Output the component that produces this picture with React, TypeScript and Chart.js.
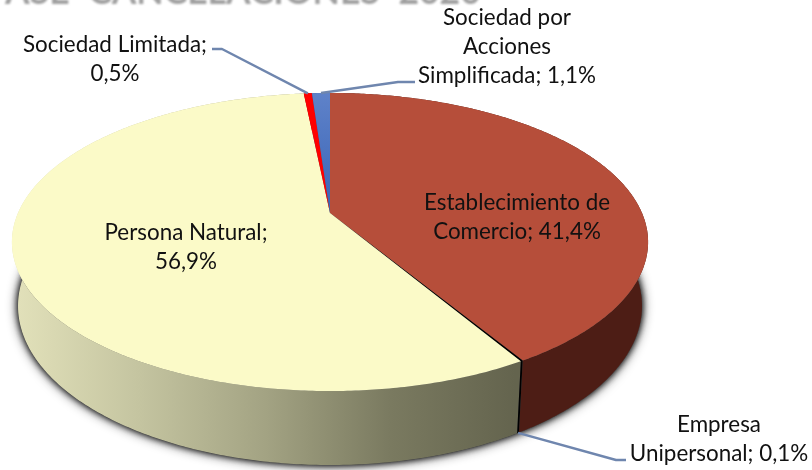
import React, { useEffect, useRef } from "react";
import { Chart, registerables } from "chart.js";

Chart.register(...registerables);

const categories = [
  "Establecimiento de Comercio",
  "Empresa Unipersonal",
  "Persona Natural",
  "Sociedad Limitada",
  "Sociedad por Acciones Simplificada",
];
const shares = [41.4, 0.1, 56.9, 0.5, 1.1];
const topColors = ["#B64E3A", "#000000", "#FBFAC8", "#FF0000", "#5B7EC6"];
const titleText = "ASE CANCELACIONES 2020";

const labelLines = [
  ["Establecimiento de", "Comercio; 41,4%"],
  ["Empresa", "Unipersonal; 0,1%"],
  ["Persona Natural;", "56,9%"],
  ["Sociedad Limitada;", "0,5%"],
  ["Sociedad por", "Acciones", "Simplificada; 1,1%"],
];
const labelCentres = [
  [517, 202.5],
  [719, 425],
  [186, 233],
  [115, 44.5],
  [507, 18],
];
const leaderElbows: (number[][] | null)[] = [
  null,
  [[616, 460], [626, 460]],
  null,
  [[222, 49], [212, 49]],
  [[398, 82], [415, 82]],
];

const W = 812;
const H = 470;
const LH = 29;
const FONT = "22.4px Lato, Carlito, sans-serif";

const TOP = { cx: 330, cy: 213, R: 312, k: 143.4 };
const BOT = { cx: 330, cy: 275, R: 306, k: 153 };
const P = 0.1947;

function proj(f: typeof TOP, a: number, r = 1) {
  const u = Math.cos(a) * r;
  const v = Math.sin(a) * r;
  const s = 1 / (1 - P * v);
  return [f.cx + f.R * u * s, f.cy + f.k * v * s];
}

function rim(ctx: CanvasRenderingContext2D, f: typeof TOP, a0: number, a1: number, first: boolean) {
  const n = Math.max(2, Math.ceil(Math.abs(a1 - a0) / 0.01));
  for (let i = 0; i <= n; i++) {
    const p = proj(f, a0 + ((a1 - a0) * i) / n);
    if (first && i === 0) ctx.moveTo(p[0], p[1]);
    else ctx.lineTo(p[0], p[1]);
  }
}

const pie3d = {
  id: "pie3d",
  beforeDatasetsDraw(chart: any) {
    const ctx: CanvasRenderingContext2D = chart.ctx;
    const arcs = chart.getDatasetMeta(0).data;

    // title cut by the top of the picture
    ctx.save();
    ctx.font = "bold 35.5px Lato, Carlito, sans-serif";
    (ctx as any).wordSpacing = "10px";
    ctx.fillStyle = "#A0A0A0";
    ctx.textAlign = "left";
    ctx.textBaseline = "alphabetic";
    ctx.filter = "blur(0.8px)";
    ctx.fillText(titleText, 5, 3.5);
    ctx.restore();

    // soft shadow round the foot of the pie
    ctx.save();
    ctx.shadowColor = "rgba(0,0,0,0.9)";
    ctx.fillStyle = "#555";
    [12, 6].forEach((b) => {
      ctx.shadowBlur = b;
      ctx.beginPath();
      rim(ctx, BOT, 0, Math.PI * 2, true);
      ctx.closePath();
      ctx.fill();
    });
    ctx.restore();

    // walls
    const grad = ctx.createLinearGradient(15, 0, 515, 0);
    grad.addColorStop(0, "#E2E1BA");
    grad.addColorStop(0.25, "#C4C4A0");
    grad.addColorStop(0.5, "#A3A383");
    grad.addColorStop(0.75, "#7A7A60");
    grad.addColorStop(1, "#64644E");
    const wallFill = ["#4D1D15", "#000000", grad, "#800000", "#2E4A80"];
    const order = [3, 4, 0, 2, 1];
    order.forEach((i) => {
      const arc = arcs[i];
      ctx.beginPath();
      rim(ctx, TOP, arc.startAngle, arc.endAngle, true);
      rim(ctx, BOT, arc.endAngle, arc.startAngle, false);
      ctx.closePath();
      ctx.fillStyle = wallFill[i] as any;
      ctx.fill();
    });

    // top face
    const blue = ctx.createLinearGradient(0, 93, 0, 213);
    blue.addColorStop(0, "#5F82C9");
    blue.addColorStop(1, "#3864B6");
    arcs.forEach((arc: any, i: number) => {
      ctx.beginPath();
      ctx.moveTo(TOP.cx, TOP.cy);
      rim(ctx, TOP, arc.startAngle, arc.endAngle, false);
      ctx.closePath();
      ctx.fillStyle = i === 4 ? blue : topColors[i];
      ctx.fill();
    });

    // leader lines
    ctx.save();
    ctx.strokeStyle = "#6F86AE";
    ctx.lineWidth = 2.4;
    ctx.lineJoin = "round";
    arcs.forEach((arc: any, i: number) => {
      const e = leaderElbows[i];
      if (!e) return;
      const mid = (arc.startAngle + arc.endAngle) / 2;
      const start = i === 1 ? proj(BOT, mid) : proj(TOP, mid);
      ctx.beginPath();
      ctx.moveTo(start[0], start[1]);
      e.forEach((q) => ctx.lineTo(q[0], q[1]));
      ctx.stroke();
    });
    ctx.restore();

    // labels
    ctx.save();
    ctx.font = FONT;
    ctx.fillStyle = "#111111";
    ctx.textAlign = "center";
    ctx.textBaseline = "middle";
    labelLines.forEach((lines, i) => {
      lines.forEach((t, j) => {
        ctx.fillText(t, labelCentres[i][0], labelCentres[i][1] + j * LH);
      });
    });
    ctx.restore();
    return false;
  },
};

export default function App() {
  const ref = useRef<HTMLCanvasElement | null>(null);
  useEffect(() => {
    document.body.style.margin = "0";
    document.body.style.overflow = "hidden";
    const chart = new Chart(ref.current as HTMLCanvasElement, {
      type: "pie",
      data: {
        labels: categories,
        datasets: [{ data: shares, backgroundColor: topColors, borderWidth: 0 }],
      },
      options: {
        responsive: false,
        animation: false,
        plugins: { legend: { display: false }, tooltip: { enabled: false }, title: { display: false } },
      },
      plugins: [pie3d],
    } as any);
    return () => chart.destroy();
  }, []);
  return <canvas ref={ref} width={W} height={H} style={{ display: "block", background: "#fff" }} />;
}
